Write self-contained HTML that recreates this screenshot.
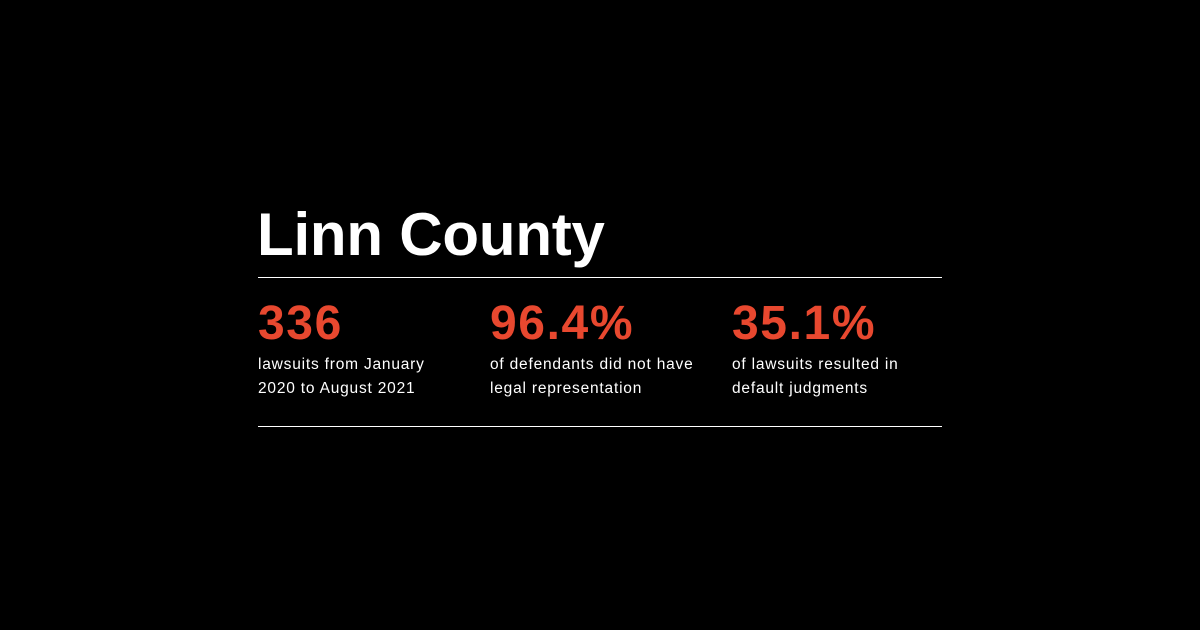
<!DOCTYPE html>
<html><head><meta charset="utf-8"><style>
body{margin:0;width:1200px;height:630px;background:#000;overflow:hidden;font-family:"Liberation Sans",sans-serif;position:relative}
.t{position:absolute;left:257px;top:200px;font-size:60px;font-weight:bold;color:#fff;line-height:70px;margin:0;letter-spacing:-0.2px}
.hr{position:absolute;left:258px;width:684px;height:1px;background:#fff}
.col{position:absolute;top:298px}
.num{font-size:48px;font-weight:bold;color:#e8482f;line-height:52px;letter-spacing:1.6px}
.lab{font-size:15.5px;color:#fff;line-height:24px;letter-spacing:0.8px;margin-top:3px}
</style></head><body>
<h1 class="t">Linn County</h1>
<div class="hr" style="top:277px"></div>
<div class="col" style="left:258px"><div class="num">336</div><div class="lab">lawsuits from January<br>2020 to August 2021</div></div>
<div class="col" style="left:490px"><div class="num">96.4%</div><div class="lab">of defendants did not have<br>legal representation</div></div>
<div class="col" style="left:732px"><div class="num">35.1%</div><div class="lab">of lawsuits resulted in<br>default judgments</div></div>
<div class="hr" style="top:426px"></div>
</body></html>
